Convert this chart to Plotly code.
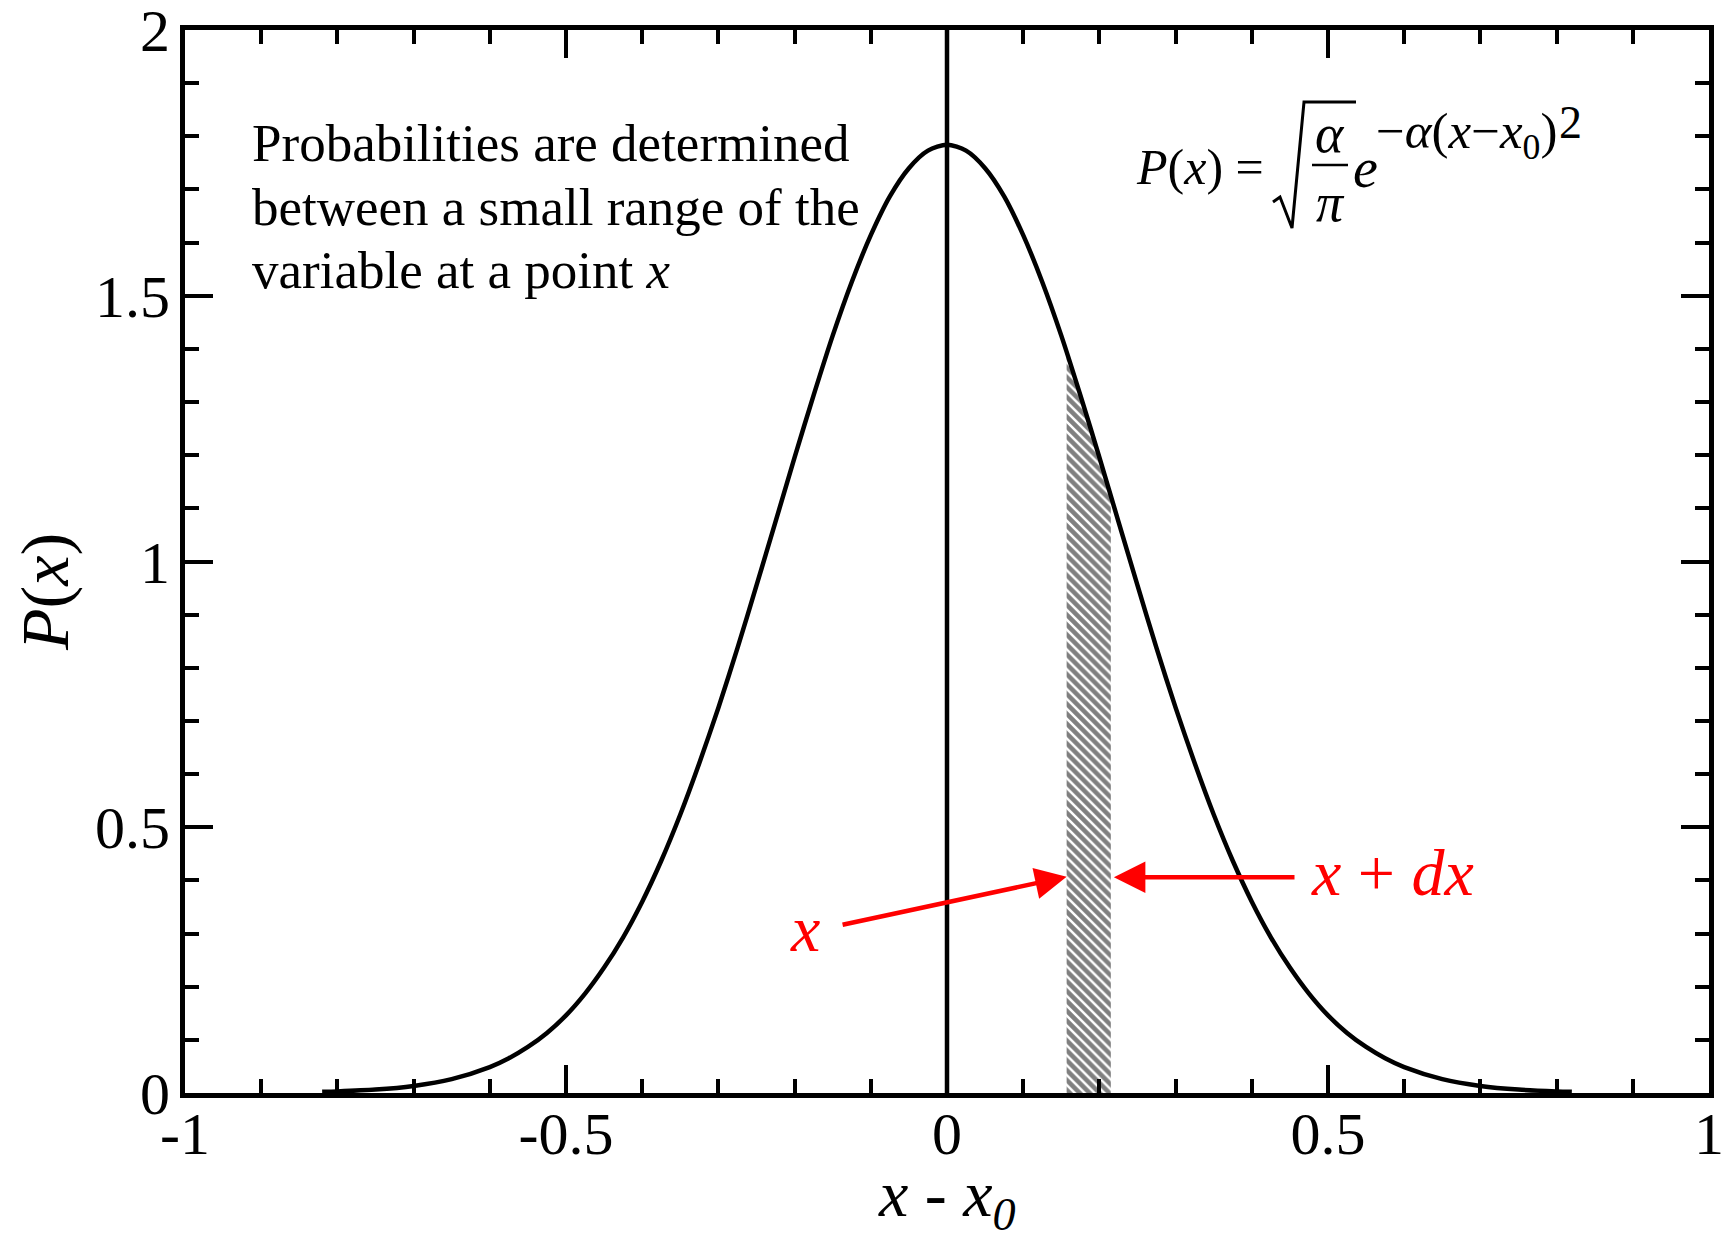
import plotly.graph_objects as go

# ---- data ----
curve_x = [-0.82, -0.80, -0.75, -0.70, -0.65, -0.60, -0.575, -0.55, -0.525, -0.50, -0.475, -0.45,
           -0.425, -0.40, -0.375, -0.35, -0.325, -0.30, -0.275, -0.25, -0.225, -0.20, -0.175,
           -0.15, -0.125, -0.10, -0.075, -0.05, -0.025, 0.00, 0.025, 0.05, 0.075, 0.10, 0.125,
           0.15, 0.175, 0.20, 0.225, 0.25, 0.275, 0.30, 0.325, 0.35, 0.375, 0.40, 0.425, 0.45,
           0.475, 0.50, 0.525, 0.55, 0.575, 0.60, 0.65, 0.70, 0.75, 0.80, 0.82]
curve_y = [0.0022, 0.0030, 0.0064, 0.0133, 0.0261, 0.0487, 0.0654, 0.0866, 0.113, 0.146, 0.187, 0.236,
           0.293, 0.360, 0.437, 0.524, 0.621, 0.725, 0.837, 0.955, 1.075, 1.196, 1.313,
           1.425, 1.526, 1.614, 1.687, 1.740, 1.773, 1.784, 1.773, 1.740, 1.687, 1.614, 1.526,
           1.425, 1.313, 1.196, 1.075, 0.955, 0.837, 0.725, 0.621, 0.524, 0.437, 0.360, 0.293, 0.236,
           0.187, 0.146, 0.113, 0.0866, 0.0654, 0.0487, 0.0261, 0.0133, 0.0064, 0.0030, 0.0022]

hatch_x = [0.157, 0.215]          # x and x + dx
hatch_top = [1.394, 1.124]        # curve height at those edges

vline_x = [0.0, 0.0]
vline_y = [0.0, 2.0]

x_ticks = [-1, -0.5, 0, 0.5, 1]
x_ticktext = ["-1", "-0.5", "0", "0.5", "1"]
y_ticks = [0, 0.5, 1, 1.5, 2]
y_ticktext = ["0", "0.5", "1", "1.5", "2"]

text_lines = ["Probabilities are determined",
              "between a small range of the",
              "variable at a point <i>x</i>"]

# arrows: (tail, head) in data units
arrow_x_tail = (-0.139, 0.316)
arrow_x_head = (0.157, 0.407)
arrow_dx_tail = (0.458, 0.406)
arrow_dx_head = (0.219, 0.406)

# ---- layout helpers (pixel -> paper) ----
W, H = 1724, 1234
L, R, T, B = 185, 1709, 30, 1093
def px(x):
    return (x - L) / (R - L)
def py(y):
    return (B - y) / (B - T)

FONT = "Liberation Serif"

fig = go.Figure()

# hatched strip
poly_x = [hatch_x[0], hatch_x[0], hatch_x[1], hatch_x[1], hatch_x[0]]
poly_y = [0, hatch_top[0], hatch_top[1], 0, 0]
fig.add_trace(go.Scatter(
    x=poly_x, y=poly_y, mode="lines", fill="toself",
    line=dict(width=0, color="rgba(0,0,0,0)"),
    fillcolor="white",
    fillpattern=dict(shape="\\", fgcolor="black", bgcolor="white", size=7, solidity=0.65),
    hoverinfo="skip", showlegend=False))

# vertical line at x - x0 = 0
fig.add_trace(go.Scatter(x=vline_x, y=vline_y, mode="lines",
                         line=dict(color="black", width=4.5), showlegend=False))

# gaussian curve
fig.add_trace(go.Scatter(x=curve_x, y=curve_y, mode="lines",
                         line=dict(color="black", width=4.5, shape="spline", smoothing=0.8),
                         showlegend=False))

annotations = []

# text block lines
centers = [143, 207, 270]
for t, c in zip(text_lines, centers):
    annotations.append(dict(x=px(250), y=py(c), xref="paper", yref="paper",
                            text=t, showarrow=False, xanchor="left", yanchor="middle",
                            font=dict(family=FONT, size=53, color="black")))

# red arrows
for tail, head in [(arrow_x_tail, arrow_x_head), (arrow_dx_tail, arrow_dx_head)]:
    annotations.append(dict(x=head[0], y=head[1], ax=tail[0], ay=tail[1],
                            xref="x", yref="y", axref="x", ayref="y",
                            showarrow=True, arrowhead=2, arrowsize=1.4, arrowwidth=4.5,
                            arrowcolor="red", text=""))
annotations.append(dict(x=-0.186, y=0.309, xref="x", yref="y", text="<i>x</i>",
                        showarrow=False, font=dict(family=FONT, size=66, color="red")))
annotations.append(dict(x=0.584, y=0.414, xref="x", yref="y", text="<i>x</i> + <i>dx</i>",
                        showarrow=False, font=dict(family=FONT, size=66, color="red")))

# equation
annotations.append(dict(x=px(1266), y=py(167), xref="paper", yref="paper",
                        text="<i>P</i>(<i>x</i>) =", showarrow=False,
                        xanchor="right", yanchor="middle",
                        font=dict(family=FONT, size=50, color="black")))
annotations.append(dict(x=px(1330), y=py(134), xref="paper", yref="paper",
                        text="<i>α</i>", showarrow=False, xanchor="center", yanchor="middle",
                        font=dict(family=FONT, size=54, color="black")))
annotations.append(dict(x=px(1330), y=py(203), xref="paper", yref="paper",
                        text="<i>π</i>", showarrow=False, xanchor="center", yanchor="middle",
                        font=dict(family=FONT, size=54, color="black")))
annotations.append(dict(x=px(1351), y=py(168), xref="paper", yref="paper",
                        text="<i>e</i>", showarrow=False, xanchor="left", yanchor="middle",
                        font=dict(family=FONT, size=56, color="black")))
annotations.append(dict(x=px(1374), y=py(135), xref="paper", yref="paper",
                        text="−<i>α</i>(<i>x</i>−<i>x</i><sub>0</sub>)", showarrow=False,
                        xanchor="left", yanchor="middle",
                        font=dict(family=FONT, size=51, color="black")))
annotations.append(dict(x=px(1557), y=py(122), xref="paper", yref="paper",
                        text="2", showarrow=False, xanchor="left", yanchor="middle",
                        font=dict(family=FONT, size=46, color="black")))

# axis titles
annotations.append(dict(x=px(45), y=py(592), xref="paper", yref="paper",
                        text="<i>P</i>(<i>x</i>)", showarrow=False, textangle=-90,
                        xanchor="center", yanchor="middle",
                        font=dict(family=FONT, size=68, color="black")))
annotations.append(dict(x=px(947), y=py(1198), xref="paper", yref="paper",
                        text="<i>x</i> - <i>x</i><sub><i>0</i></sub>", showarrow=False,
                        xanchor="center", yanchor="middle",
                        font=dict(family=FONT, size=66, color="black")))

shapes = []
# radical sign + fraction bar
shapes.append(dict(type="path", xref="paper", yref="paper",
                   path=f"M {px(1273)} {py(202)} L {px(1280)} {py(197)} L {px(1292)} {py(228)} "
                        f"L {px(1304)} {py(102)} L {px(1356)} {py(102)}",
                   line=dict(color="black", width=3)))
shapes.append(dict(type="line", xref="paper", yref="paper",
                   x0=px(1312), x1=px(1348), y0=py(165), y1=py(165),
                   line=dict(color="black", width=2.5)))

axis_common = dict(showline=True, linecolor="black", linewidth=5, mirror="allticks",
                   ticks="inside", ticklen=28, tickwidth=3.5, tickcolor="black",
                   showgrid=False, zeroline=False, ticklabeloverflow="allow",
                   automargin=False,
                   tickfont=dict(family=FONT, size=60, color="black"))

fig.update_layout(
    width=W, height=H,
    margin=dict(l=L, r=W - R, t=T, b=H - B, autoexpand=False),
    paper_bgcolor="white", plot_bgcolor="white",
    showlegend=False,
    xaxis=dict(range=[-1, 1], tickvals=x_ticks, ticktext=x_ticktext,
               minor=dict(dtick=0.1, ticks="inside", ticklen=14, tickwidth=3.5, tickcolor="black",
                          showgrid=False),
               ticklabelstandoff=-16, **axis_common),
    yaxis=dict(range=[0, 2], tickvals=y_ticks, ticktext=y_ticktext,
               minor=dict(dtick=0.1, ticks="inside", ticklen=14, tickwidth=3.5, tickcolor="black",
                          showgrid=False),
               ticklabelstandoff=-2, **axis_common),
    annotations=annotations,
    shapes=shapes,
)

fig.write_html("out.html")
